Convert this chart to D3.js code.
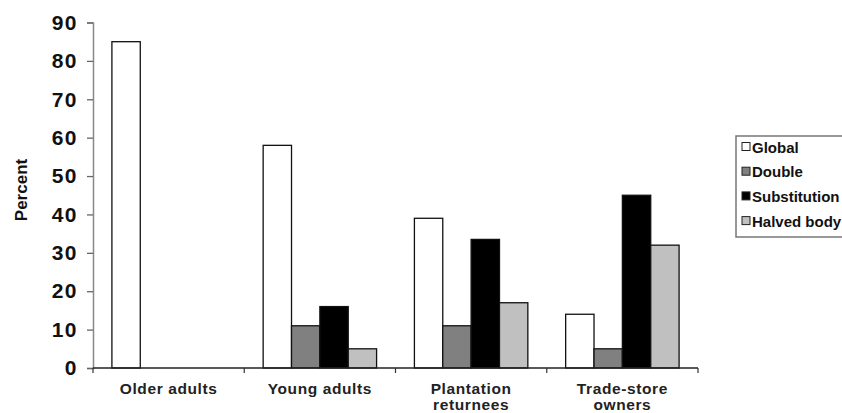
<!DOCTYPE html>
<html><head><meta charset="utf-8">
<script src="https://cdn.jsdelivr.net/npm/d3@7"></script>
<style>body{margin:0;background:#fff}svg{display:block;font-family:"Liberation Sans",Arial,sans-serif}</style>
</head><body><svg id="c" width="842" height="413"></svg>
<script>
const categories = [["Older adults"],["Young adults"],["Plantation","returnees"],["Trade-store","owners"]];
const seriesNames = ["Global","Double","Substitution","Halved body"];
const seriesColors = ["#ffffff","#808080","#000000","#c0c0c0"];
const globalVals = [85,58,39,14];
const doubleVals = [0,11,11,5];
const substitutionVals = [0,16,33.5,45];
const halvedVals = [0,5,17,32];
const yTicks = [0,10,20,30,40,50,60,70,80,90];

const seriesVals = [globalVals,doubleVals,substitutionVals,halvedVals];
const svg = d3.select("#c");
const m = {l:93, r:698, t:22.5, b:368};
const x0 = d3.scaleBand().domain(d3.range(categories.length)).range([m.l,m.r]).paddingInner(0).paddingOuter(0);
const groupW = x0.bandwidth()*0.75;
const x1 = d3.scaleBand().domain(d3.range(seriesNames.length)).range([0,groupW]);
const y = d3.scaleLinear().domain([0,90]).range([m.b,m.t]);

// bars
categories.forEach((c,ci)=>{
  seriesVals.forEach((vals,si)=>{
    const v = vals[ci];
    if(!v) return;
    svg.append("rect")
      .attr("x", x0(ci) + (x0.bandwidth()-groupW)/2 + x1(si))
      .attr("y", y(v))
      .attr("width", x1.bandwidth())
      .attr("height", y(0)-y(v))
      .attr("fill", seriesColors[si])
      .attr("stroke","#111").attr("stroke-width",1.3);
  });
});

// y axis
const ya = svg.append("g").attr("transform",`translate(${m.l},0)`)
  .call(d3.axisLeft(y).tickValues(yTicks).tickSize(6).tickPadding(9));
ya.select(".domain").attr("stroke","#888").attr("stroke-width",1.5);
ya.selectAll(".tick line").attr("stroke","#666").attr("stroke-width",1.3);
ya.selectAll("text").attr("font-size",21).attr("font-weight","bold").attr("fill","#111")
  .attr("letter-spacing","1.5px")
  .attr("font-family","'Liberation Sans',Arial,sans-serif");

// x axis
const xa = svg.append("g").attr("transform",`translate(0,${m.b})`);
xa.append("line").attr("x1",m.l).attr("x2",m.r).attr("stroke","#222").attr("stroke-width",1.5);
d3.range(categories.length+1).forEach(i=>{
  const xx = m.l + i*x0.step();
  xa.append("line").attr("x1",xx).attr("x2",xx).attr("y1",0).attr("y2",5).attr("stroke","#333").attr("stroke-width",1.2);
});
categories.forEach((lines,ci)=>{
  const t = xa.append("text").attr("x",x0(ci)+x0.bandwidth()/2).attr("y",26)
    .attr("text-anchor","middle").attr("font-size",15.5).attr("font-weight","bold").attr("fill","#222")
    .attr("letter-spacing","0.6px");
  lines.forEach((ln,li)=>t.append("tspan").attr("x",x0(ci)+x0.bandwidth()/2).attr("dy",li?16:0).text(ln));
});

// y label
svg.append("text").attr("transform","translate(27,190) rotate(-90)").attr("text-anchor","middle")
  .attr("font-size",17).attr("font-weight","bold").attr("fill","#111").text("Percent");

// legend
const lg = svg.append("g");
lg.append("rect").attr("x",736).attr("y",136).attr("width",120).attr("height",101)
  .attr("fill","#fff").attr("stroke","#777").attr("stroke-width",1.5);
seriesNames.forEach((n,i)=>{
  const yy = 147 + i*24.7;
  lg.append("rect").attr("x",742).attr("y",yy-4.5).attr("width",8).attr("height",8)
    .attr("fill",seriesColors[i]).attr("stroke","#222").attr("stroke-width",1);
  lg.append("text").attr("x",752).attr("y",yy+5.5).attr("font-size",15).attr("font-weight","bold")
    .attr("fill","#111").text(n);
});
</script></body></html>
